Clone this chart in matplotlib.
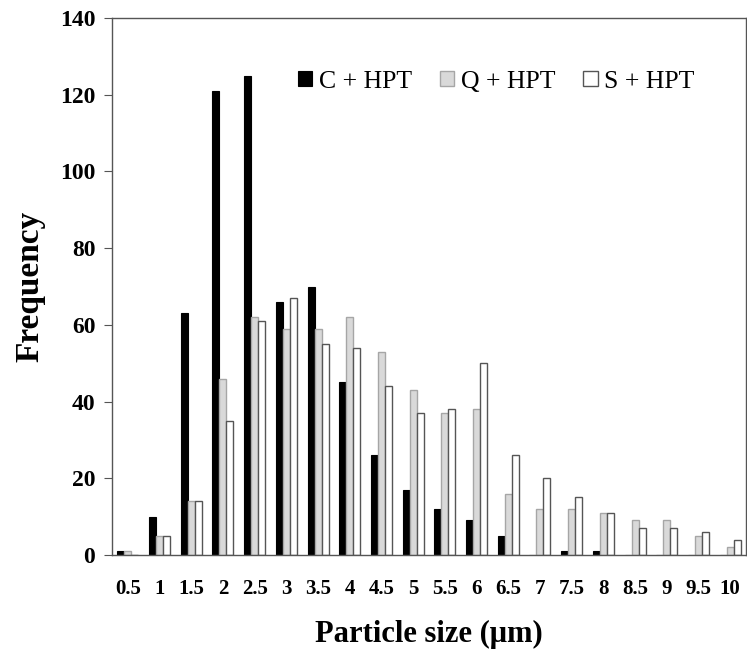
import matplotlib.pyplot as plt
import numpy as np

sizes = ['0.5', '1', '1.5', '2', '2.5', '3', '3.5', '4', '4.5', '5',
         '5.5', '6', '6.5', '7', '7.5', '8', '8.5', '9', '9.5', '10']
c_hpt = [1, 10, 63, 121, 125, 66, 70, 45, 26, 17, 12, 9, 5, 0, 1, 1, 0, 0, 0, 0]
q_hpt = [1, 5, 14, 46, 62, 59, 59, 62, 53, 43, 37, 38, 16, 12, 12, 11, 9, 9, 5, 2]
s_hpt = [0, 5, 14, 35, 61, 67, 55, 54, 44, 37, 38, 50, 26, 20, 15, 11, 7, 7, 6, 4]

plt.rcParams['font.family'] = 'Liberation Serif'

fig = plt.figure(figsize=(7.47, 6.53), dpi=100)
ax = fig.add_axes([112 / 747, 1 - 555 / 653, 634 / 747, 537 / 653])

x = np.arange(len(sizes))
w = 0.22
ax.bar(x - w, c_hpt, w, color='black', edgecolor='black', linewidth=0.8, label='C + HPT')
ax.bar(x, q_hpt, w, color='#d9d9d9', edgecolor='#a6a6a6', linewidth=1.0, label='Q + HPT')
ax.bar(x + w, s_hpt, w, color='white', edgecolor='#555555', linewidth=1.0, label='S + HPT')

ax.set_xlim(-0.5, len(sizes) - 0.5)
ax.set_ylim(0, 140)
ax.set_yticks(range(0, 141, 20))
ax.set_xticks(x)
ax.set_xticklabels(sizes)

for s in ax.spines.values():
    s.set_color('#555555')
    s.set_linewidth(1.0)

ax.tick_params(axis='y', direction='out', length=6, color='#555555', labelsize=17, pad=6)
ax.tick_params(axis='x', length=0, labelsize=15, pad=17)
for lbl in ax.get_xticklabels() + ax.get_yticklabels():
    lbl.set_fontweight('bold')

ax.set_ylabel('Frequency', fontsize=24, fontweight='bold', labelpad=10)
ax.set_xlabel('Particle size (\u03bcm)', fontsize=22, fontweight='bold', labelpad=15)

ax.legend(loc='upper right', bbox_to_anchor=(0.955, 0.945), ncol=3, frameon=False,
          fontsize=18.5, handlelength=0.55, handleheight=0.55, handletextpad=0.25,
          columnspacing=1.1)

plt.savefig('out.png', dpi=100)
